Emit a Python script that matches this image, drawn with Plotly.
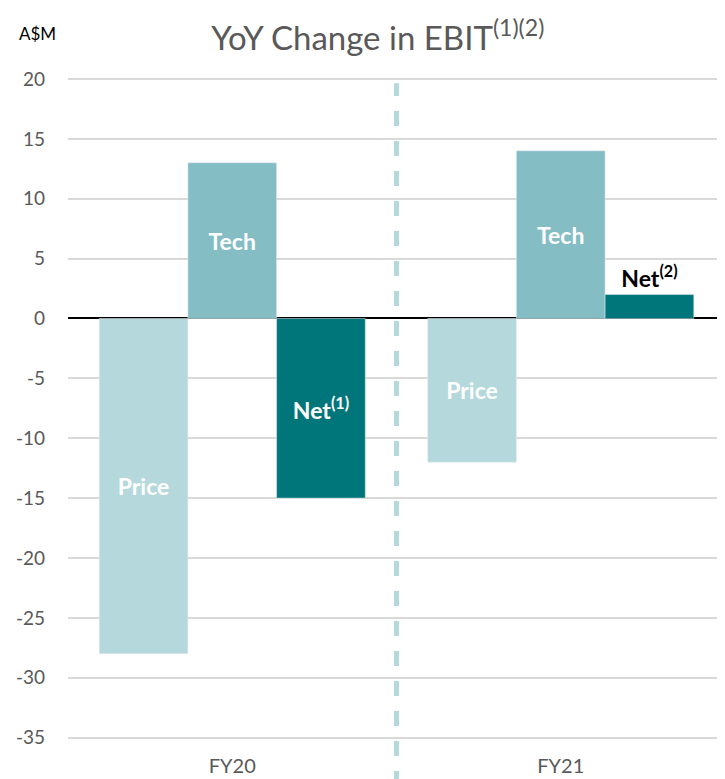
import plotly.graph_objects as go

# Données
years = ["FY20", "FY21"]
price = [-28, -12]
tech = [13, 14]
net = [-15, 2]
net_labels = ["<b>Net<sup>(1)</sup></b>", "<b>Net<sup>(2)</sup></b>"]
y_ticks = [-35, -30, -25, -20, -15, -10, -5, 0, 5, 10, 15, 20]

c_price = "#B4D8DC"
c_tech = "#84BDC4"
c_net = "#00767A"
font_family = "Lato, Open Sans, sans-serif"

fig = go.Figure()

fig.add_trace(go.Bar(
    x=years, y=price, name="Price", marker_color=c_price,
    text=["<b>Price</b>"] * 2, textposition="inside", insidetextanchor="middle",
    textfont=dict(color="white", size=23, family=font_family),
))
fig.add_trace(go.Bar(
    x=years, y=tech, name="Tech", marker_color=c_tech,
    text=["<b>Tech</b>"] * 2, textposition="inside", insidetextanchor="middle",
    textfont=dict(color="white", size=23, family=font_family),
))
fig.add_trace(go.Bar(
    x=years, y=net, name="Net", marker_color=c_net,
    text=net_labels, textposition=["inside", "outside"], insidetextanchor="middle",
    textfont=dict(color=["white", "black"], size=23, family=font_family),
    outsidetextfont=dict(color="black", size=23, family=font_family),
    cliponaxis=False,
))

# Ligne verticale pointillée entre les deux années
fig.add_shape(
    type="line", xref="x", yref="paper", x0=0.5, x1=0.5, y0=-0.05, y1=0.985,
    line=dict(color=c_price, width=5, dash="dash"),
)

fig.add_annotation(
    text="A$M", xref="paper", yref="paper", x=-0.046, y=1.04,
    xanchor="center", yanchor="bottom", showarrow=False,
    font=dict(size=17, color="black", family=font_family),
)

fig.update_layout(
    title=dict(
        text="YoY Change in EBIT<sup>(1)(2)</sup>",
        x=0.51, xref="container", xanchor="center", y=0.976, yanchor="top",
        font=dict(size=33, color="#595959", family=font_family),
    ),
    width=725, height=779,
    margin=dict(l=60, r=8, t=65, b=35),
    barmode="group", bargap=0.19, bargroupgap=0,
    plot_bgcolor="white", paper_bgcolor="white",
    showlegend=False,
    xaxis=dict(
        showgrid=False, showline=False, ticks="",
        tickfont=dict(size=20, color="#595959", family=font_family),
    ),
    yaxis=dict(
        range=[-36.2, 20.5], tickvals=y_ticks, ticktext=[str(v) for v in y_ticks],
        showgrid=True, gridcolor="#D9D9D9", gridwidth=2,
        zeroline=True, zerolinecolor="black", zerolinewidth=2,
        ticks="", ticklabelstandoff=22,
        tickfont=dict(size=19, color="#595959", family=font_family),
    ),
)

fig.write_html("out.html")
